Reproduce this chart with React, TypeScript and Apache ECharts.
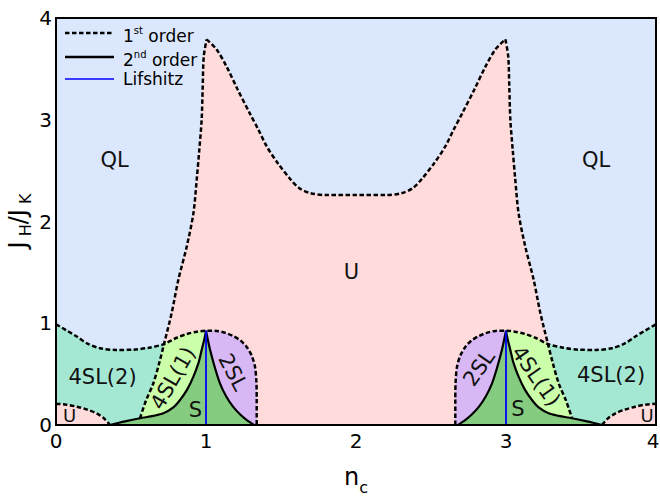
import React, { useEffect, useRef } from "react";
import * as echarts from "echarts";

type P = [number, number];

// ---- axis ticks ----
const xTickValues = [0, 1, 2, 3, 4];
const yTickValues = [0, 1, 2, 3, 4];

// ---- 1st-order boundary, main U / QL dome (n_c, J_H/J_K) ----
const mainLeftLower: P[] = [[0.56, 0.066], [0.6, 0.24], [0.649, 0.41], [0.69, 0.62], [0.72, 0.795]];
const mainLeftUpper: P[] = [[0.72, 0.795], [0.771, 1.1], [0.816, 1.43], [0.871, 1.75], [0.916, 2.08], [0.938, 2.41], [0.955, 2.7], [0.971, 3.0], [0.978, 3.32], [0.985, 3.62], [1.004, 3.79]];
const mainMiddle: P[] = [[1.004, 3.79], [1.071, 3.69], [1.138, 3.52], [1.21, 3.3], [1.293, 3.06], [1.35, 2.9], [1.404, 2.74], [1.48, 2.57], [1.56, 2.42], [1.62, 2.33], [1.693, 2.28], [1.8, 2.26], [2.0, 2.26], [2.2, 2.26], [2.307, 2.28], [2.38, 2.33], [2.44, 2.42], [2.52, 2.57], [2.596, 2.74], [2.65, 2.9], [2.707, 3.06], [2.79, 3.3], [2.862, 3.52], [2.929, 3.69], [2.996, 3.79]];
const mainRightUpper: P[] = [[2.996, 3.79], [3.015, 3.62], [3.022, 3.32], [3.029, 3.0], [3.045, 2.7], [3.062, 2.41], [3.084, 2.08], [3.129, 1.75], [3.184, 1.43], [3.229, 1.1], [3.28, 0.795]];
const mainRightLower: P[] = [[3.28, 0.795], [3.31, 0.62], [3.351, 0.41], [3.4, 0.24], [3.44, 0.066]];

// ---- 1st-order boundary, lower left ----
const ql4sl2Left: P[] = [[0, 0.99], [0.07, 0.93], [0.138, 0.87], [0.21, 0.8], [0.293, 0.755], [0.4, 0.738], [0.515, 0.74], [0.62, 0.76], [0.72, 0.795]];
const sl41TopLeft: P[] = [[0.72, 0.795], [0.8, 0.855], [0.87, 0.893], [0.94, 0.917], [1.0, 0.927]];
const sl2TopLeft: P[] = [[1.0, 0.927], [1.07, 0.925], [1.13, 0.905], [1.18, 0.875], [1.23, 0.83], [1.27, 0.77], [1.305, 0.68], [1.327, 0.57], [1.336, 0.42], [1.338, 0.25], [1.338, 0]];
const smallULeft: P[] = [[0, 0.21], [0.07, 0.2], [0.138, 0.18], [0.21, 0.15], [0.27, 0.115], [0.32, 0.065], [0.36, 0]];

// ---- 1st-order boundary, lower right ----
const ql4sl2Right: P[] = [[3.28, 0.795], [3.38, 0.76], [3.485, 0.74], [3.6, 0.738], [3.707, 0.755], [3.79, 0.8], [3.862, 0.87], [3.93, 0.93], [4, 0.99]];
const sl41TopRight: P[] = [[3.0, 0.927], [3.06, 0.917], [3.13, 0.893], [3.2, 0.855], [3.28, 0.795]];
const sl2TopRight: P[] = [[2.662, 0], [2.662, 0.25], [2.664, 0.42], [2.673, 0.57], [2.695, 0.68], [2.73, 0.77], [2.77, 0.83], [2.82, 0.875], [2.87, 0.905], [2.93, 0.925], [3.0, 0.927]];
const smallURight: P[] = [[3.64, 0], [3.68, 0.065], [3.73, 0.115], [3.79, 0.15], [3.862, 0.18], [3.93, 0.2], [4, 0.21]];

// ---- 2nd-order boundaries ----
const solidLeftBase: P[] = [[0.36, 0], [0.46, 0.035], [0.56, 0.066]];
const solidLeftRise: P[] = [[0.56, 0.066], [0.65, 0.09], [0.716, 0.115], [0.78, 0.17], [0.827, 0.246], [0.875, 0.35], [0.916, 0.475], [0.95, 0.61], [0.971, 0.737], [0.99, 0.85], [1.0, 0.927]];
const solidLeftFall: P[] = [[1.0, 0.927], [1.012, 0.84], [1.027, 0.74], [1.06, 0.56], [1.093, 0.41], [1.135, 0.28], [1.18, 0.18], [1.23, 0.1], [1.27, 0.05], [1.32, 0]];
const solidRightRise: P[] = [[2.68, 0], [2.73, 0.05], [2.77, 0.1], [2.82, 0.18], [2.865, 0.28], [2.907, 0.41], [2.94, 0.56], [2.973, 0.74], [2.988, 0.84], [3.0, 0.927]];
const solidRightFall: P[] = [[3.0, 0.927], [3.01, 0.85], [3.029, 0.737], [3.05, 0.61], [3.084, 0.475], [3.125, 0.35], [3.173, 0.246], [3.22, 0.17], [3.284, 0.115], [3.35, 0.09], [3.44, 0.066]];
const solidRightBase: P[] = [[3.44, 0.066], [3.54, 0.035], [3.64, 0]];

// ---- Lifshitz lines ----
const lifshitzLeft: P[] = [[1, 0], [1, 0.927]];
const lifshitzRight: P[] = [[3, 0], [3, 0.927]];

// ---- region labels ----
const regionLabels = [
  { text: "QL", x: 0.39, y: 2.6, rot: 0, small: false },
  { text: "QL", x: 3.6, y: 2.6, rot: 0, small: false },
  { text: "U", x: 1.97, y: 1.5, rot: 0, small: false },
  { text: "4SL(2)", x: 0.31, y: 0.47, rot: 0, small: false },
  { text: "4SL(2)", x: 3.7, y: 0.49, rot: 0, small: false },
  { text: "4SL(1)", x: 0.78, y: 0.46, rot: 60, small: false },
  { text: "4SL(1)", x: 3.2, y: 0.48, rot: -55, small: false },
  { text: "2SL", x: 1.18, y: 0.52, rot: -62, small: false },
  { text: "2SL", x: 2.82, y: 0.56, rot: 55, small: false },
  { text: "S", x: 0.93, y: 0.15, rot: 0, small: false },
  { text: "S", x: 3.08, y: 0.16, rot: 0, small: false },
  { text: "U", x: 0.09, y: 0.09, rot: 0, small: true },
  { text: "U", x: 3.94, y: 0.09, rot: 0, small: true },
];

const COLORS = {
  QL: "#dbe7fc",
  U: "#ffdcdb",
  SL42: "#a4e8d4",
  SL41: "#ccffaa",
  SL2: "#d7b7f4",
  S: "#86cc80",
};

const FONT = "DejaVu Sans";

function join(...parts: P[][]): P[] {
  const out: P[] = [];
  parts.forEach((part) => {
    part.forEach((p) => {
      const last = out[out.length - 1];
      if (!last || last[0] !== p[0] || last[1] !== p[1]) out.push(p);
    });
  });
  return out;
}
const rev = (a: P[]) => a.slice().reverse();

const polygons: { color: string; pts: P[] }[] = [
  { color: COLORS.U, pts: join(mainLeftLower, mainLeftUpper, mainMiddle, mainRightUpper, mainRightLower, [[3.44, 0], [0.56, 0]]) },
  // left side
  { color: COLORS.SL42, pts: join(ql4sl2Left, rev(mainLeftLower), rev(solidLeftBase), [[0, 0]]) },
  { color: COLORS.SL41, pts: join(sl41TopLeft, rev(solidLeftRise), mainLeftLower) },
  { color: COLORS.SL2, pts: join(sl2TopLeft, rev(solidLeftFall)) },
  { color: COLORS.S, pts: join(solidLeftBase, solidLeftRise, solidLeftFall) },
  { color: COLORS.U, pts: join(smallULeft, [[0, 0]]) },
  // right side
  { color: COLORS.SL42, pts: join([[3.64, 0], [4, 0]], rev(ql4sl2Right), mainRightLower, solidRightBase) },
  { color: COLORS.SL41, pts: join(sl41TopRight, mainRightLower, rev(solidRightFall)) },
  { color: COLORS.SL2, pts: join(sl2TopRight, rev(solidRightRise)) },
  { color: COLORS.S, pts: join(solidRightRise, solidRightFall, solidRightBase) },
  { color: COLORS.U, pts: join(smallURight, [[4, 0]]) },
];

const dashedLines: P[][] = [
  join(mainLeftLower, mainLeftUpper),
  mainMiddle,
  join(mainRightUpper, mainRightLower),
  join(ql4sl2Left, sl41TopLeft, sl2TopLeft),
  join(sl2TopRight, sl41TopRight, ql4sl2Right),
  smallULeft,
  smallURight,
];
const solidLines: P[][] = [
  join(solidLeftBase, solidLeftRise),
  solidLeftFall,
  solidRightRise,
  join(solidRightFall, solidRightBase),
];
const blueLines: P[][] = [lifshitzLeft, lifshitzRight];

export default function App() {
  const ref = useRef<HTMLDivElement>(null);
  useEffect(() => {
    if (!ref.current) return;
    const chart = echarts.init(ref.current, null, { renderer: "svg" });

    const lineSeries = (data: P[], color: string, width: number, type: any, z: number) => ({
      type: "line",
      data,
      showSymbol: false,
      symbol: "none",
      smooth: 0.3,
      silent: true,
      z,
      lineStyle: { color, width, type },
      emphasis: { disabled: true },
    });

    const option: any = {
      animation: false,
      grid: {
        left: 56,
        right: 4,
        top: 18,
        bottom: 73,
        show: true,
        backgroundColor: COLORS.QL,
        borderWidth: 0,
        containLabel: false,
        outerBoundsMode: "none",
      },
      xAxis: {
        type: "value",
        min: 0,
        max: 4,
        interval: 1,
        axisLine: { show: false },
        axisTick: { show: false },
        splitLine: { show: false },
        axisLabel: {
          fontSize: 20,
          fontFamily: FONT,
          color: "#000",
          margin: 6,
          formatter: (v: number) =>
            xTickValues.includes(v) ? (v === 4 ? "{r|4}" : String(v)) : "",
          rich: {
            r: { fontSize: 20, fontFamily: FONT, color: "#000", padding: [0, 6, 0, 0] },
          },
        },
        name: "{n|n}{s|c}",
        nameLocation: "middle",
        nameGap: 40,
        nameTextStyle: {
          fontFamily: FONT,
          color: "#000",
          rich: {
            n: { fontSize: 24, fontFamily: FONT, color: "#000", lineHeight: 30, verticalAlign: "bottom", padding: [0, 0, 6, 0] },
            s: { fontSize: 16, fontFamily: FONT, color: "#000", lineHeight: 30, verticalAlign: "bottom" },
          },
        },
      },
      yAxis: {
        type: "value",
        min: 0,
        max: 4,
        interval: 1,
        axisLine: { show: false },
        axisTick: { show: false },
        splitLine: { show: false },
        axisLabel: {
          fontSize: 20,
          fontFamily: FONT,
          color: "#000",
          margin: 4,
          formatter: (v: number) => (yTickValues.includes(v) ? String(v) : ""),
        },
      },
      graphic: [
        {
          type: "text", z: 100, x: 21, y: 221, rotation: Math.PI / 2,
          style: {
            text: "{j|J}{s| H}{j|/J}{s| K}",
            align: "center", textAlign: "center",
            verticalAlign: "middle", textVerticalAlign: "middle",
            rich: {
              j: { fontSize: 24, fontFamily: FONT, fill: "#000", color: "#000", lineHeight: 24, verticalAlign: "bottom", padding: [0, 0, 3, 0] },
              s: { fontSize: 16, fontFamily: FONT, fill: "#000", color: "#000", lineHeight: 24, verticalAlign: "bottom" },
            },
          },
        },
        { type: "line", z: 100, shape: { x1: 65, y1: 33, x2: 114, y2: 33 }, style: { stroke: "#000", lineWidth: 2.5, lineDash: [4.5, 2.5] } },
        { type: "line", z: 100, shape: { x1: 65, y1: 57, x2: 114, y2: 57 }, style: { stroke: "#000", lineWidth: 2.5 } },
        { type: "line", z: 100, shape: { x1: 65, y1: 79, x2: 114, y2: 79 }, style: { stroke: "#0000ff", lineWidth: 1.5 } },
        {
          type: "text", z: 100, x: 123, y: 33,
          style: {
            text: "{n|1}{p|st}{n| order}",
            verticalAlign: "middle", textVerticalAlign: "middle",
            rich: {
              n: { fontSize: 17, fontFamily: FONT, fill: "#000", color: "#000", lineHeight: 22, verticalAlign: "bottom" },
              p: { fontSize: 10, fontFamily: FONT, fill: "#000", color: "#000", lineHeight: 22, verticalAlign: "top", padding: [3, 0, 0, 0] },
            },
          },
        },
        {
          type: "text", z: 100, x: 123, y: 57,
          style: {
            text: "{n|2}{p|nd}{n| order}",
            verticalAlign: "middle", textVerticalAlign: "middle",
            rich: {
              n: { fontSize: 17, fontFamily: FONT, fill: "#000", color: "#000", lineHeight: 22, verticalAlign: "bottom" },
              p: { fontSize: 10, fontFamily: FONT, fill: "#000", color: "#000", lineHeight: 22, verticalAlign: "top", padding: [3, 0, 0, 0] },
            },
          },
        },
        {
          type: "text", z: 100, x: 123, y: 79,
          style: { text: "Lifshitz", font: `17px ${FONT}`, fill: "#000", verticalAlign: "middle", textVerticalAlign: "middle" },
        },
      ],
      series: [
        {
          type: "custom",
          coordinateSystem: "cartesian2d",
          silent: true,
          z: 1,
          data: [[0, 0]],
          renderItem: (_params: any, api: any) => ({
            type: "group",
            children: polygons.map((pg) => ({
              type: "polygon",
              shape: { points: pg.pts.map((p) => api.coord(p)) },
              style: { fill: pg.color, stroke: pg.color, lineWidth: 0.8 },
            })),
          }),
        },
        ...dashedLines.map((d) => lineSeries(d, "#000", 2.5, [4.5, 2.5], 3)),
        ...solidLines.map((d) => lineSeries(d, "#000", 2.2, "solid", 3)),
        ...blueLines.map((d) => lineSeries(d, "#0000ff", 1.8, "solid", 4)),
        {
          type: "custom",
          coordinateSystem: "cartesian2d",
          silent: true,
          z: 5,
          data: [[0, 0]],
          renderItem: (_params: any, api: any) => ({
            type: "group",
            children: regionLabels.map((l) => {
              const c = api.coord([l.x, l.y]);
              return {
                type: "text",
                x: c[0],
                y: c[1],
                rotation: (l.rot * Math.PI) / 180,
                style: {
                  text: l.text,
                  font: `${l.small ? 18 : 21}px ${FONT}`,
                  fill: "#111",
                  align: "center",
                  verticalAlign: "middle",
                  textAlign: "center",
                  textVerticalAlign: "middle",
                },
              };
            }),
          }),
        },
        {
          type: "custom",
          coordinateSystem: "cartesian2d",
          silent: true,
          z: 6,
          data: [[0, 0]],
          renderItem: (_params: any, api: any) => {
            const a = api.coord([0, 4]);
            const b = api.coord([4, 0]);
            return {
              type: "rect",
              shape: { x: a[0], y: a[1], width: b[0] - a[0], height: b[1] - a[1] },
              style: { fill: "none", stroke: "#000", lineWidth: 2 },
            };
          },
        },
      ],
    };
    chart.setOption(option);
    return () => chart.dispose();
  }, []);

  return (
    <div
      ref={ref}
      style={{ position: "fixed", left: 0, top: 0, width: 660, height: 498, background: "#fff" }}
    />
  );
}
